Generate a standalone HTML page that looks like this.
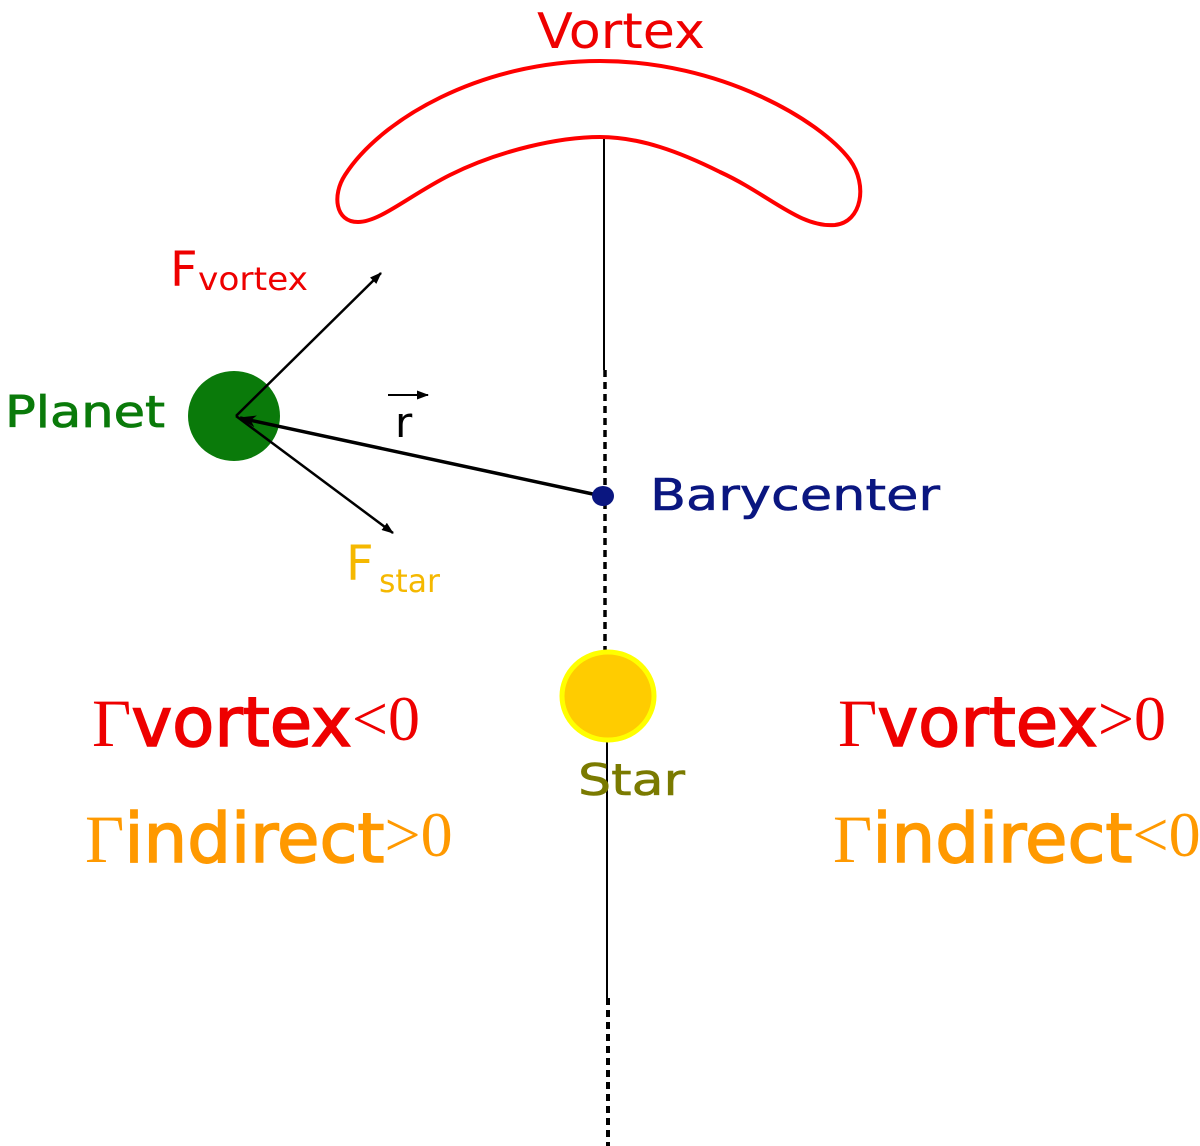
<!DOCTYPE html>
<html><head><meta charset="utf-8"><style>
html,body{margin:0;padding:0;background:#fff;}
svg{display:block;}
text{font-family:"DejaVu Sans","Liberation Sans",sans-serif;}
.s{font-family:"Liberation Serif",serif;}
</style></head><body>
<svg width="1200" height="1146" viewBox="0 0 1200 1146" xmlns="http://www.w3.org/2000/svg">
<defs>
<marker id="ah" markerWidth="12" markerHeight="9" refX="11" refY="4.5" orient="auto" markerUnits="userSpaceOnUse">
<path d="M0,0 L12,4.5 L0,9 Z" fill="#000"/></marker>
<marker id="ah2" markerWidth="18" markerHeight="12" refX="16" refY="6" orient="auto" markerUnits="userSpaceOnUse">
<path d="M0,0 L18,6 L0,12 L5,6 Z" fill="#000"/></marker>
</defs>
<line x1="604" y1="138" x2="604" y2="370" stroke="#000" stroke-width="2"/>
<line x1="605" y1="370" x2="605" y2="652" stroke="#000" stroke-width="3.5" stroke-dasharray="7,5"/>
<line x1="607" y1="652" x2="607" y2="998" stroke="#000" stroke-width="2"/>
<line x1="608" y1="998" x2="608" y2="1146" stroke="#000" stroke-width="4" stroke-dasharray="7,5"/>
<path d="M600,61 C720,61 820,120 850,160 C868,185 862,222 835,225 C800,228 770,195 720,172 C680,152 640,137 600,137 C560,137 500,150 450,175 C410,195 380,222 358,222 C335,222 332,195 345,175 C380,120 480,61 600,61 Z" fill="none" stroke="#f00" stroke-width="4"/>
<text x="537" y="48" fill="#e00" font-size="49" textLength="168" lengthAdjust="spacingAndGlyphs">Vortex</text>
<ellipse cx="234" cy="416" rx="46" ry="45" fill="#0a7a0a"/>
<text x="5" y="427" fill="#0a7a0a" stroke="#0a7a0a" stroke-width="0.8" font-size="44" textLength="160" lengthAdjust="spacingAndGlyphs">Planet</text>
<line x1="236" y1="416" x2="381" y2="273" stroke="#000" stroke-width="2.5" marker-end="url(#ah)"/>
<line x1="236" y1="416" x2="393" y2="533" stroke="#000" stroke-width="2.5" marker-end="url(#ah)"/>
<line x1="602" y1="496" x2="240" y2="418" stroke="#000" stroke-width="3.5" marker-end="url(#ah2)"/>
<text x="395" y="437" fill="#000" font-size="42">r</text>
<line x1="388" y1="395" x2="428" y2="395" stroke="#000" stroke-width="2" marker-end="url(#ah)"/>
<text x="170" y="286" fill="#e00" font-size="48">F</text>
<text x="198" y="290" fill="#e00" font-size="32" textLength="110" lengthAdjust="spacingAndGlyphs">vortex</text>
<text x="346" y="580" fill="#f5b800" font-size="48">F</text>
<text x="379" y="592" fill="#f5b800" font-size="32" textLength="61" lengthAdjust="spacingAndGlyphs">star</text>
<ellipse cx="603" cy="496" rx="11" ry="10" fill="#0a1680"/>
<text x="650" y="510" fill="#0a1680" stroke="#0a1680" stroke-width="0.6" font-size="44" textLength="290" lengthAdjust="spacingAndGlyphs">Barycenter</text>
<ellipse cx="608" cy="696" rx="46" ry="44" fill="#ffcc00" stroke="#ffff00" stroke-width="5"/>
<text x="578" y="795" fill="#7a7a00" stroke="#7a7a00" stroke-width="0.6" font-size="44" textLength="107" lengthAdjust="spacingAndGlyphs">Star</text>
<g stroke-width="1.6">
<text x="92" y="746" fill="#e00" stroke="#e00"><tspan class="s" font-size="68" stroke-width="0">Γ</tspan><tspan font-size="69">vortex</tspan><tspan class="s" font-size="64" dy="-6" stroke-width="0">&lt;0</tspan></text>
<text x="85" y="862" fill="#ff9900" stroke="#ff9900"><tspan class="s" font-size="68" stroke-width="0">Γ</tspan><tspan font-size="69">indirect</tspan><tspan class="s" font-size="64" dy="-6" stroke-width="0">&gt;0</tspan></text>
<text x="838" y="746" fill="#e00" stroke="#e00"><tspan class="s" font-size="68" stroke-width="0">Γ</tspan><tspan font-size="69">vortex</tspan><tspan class="s" font-size="64" dy="-6" stroke-width="0">&gt;0</tspan></text>
<text x="833" y="862" fill="#ff9900" stroke="#ff9900"><tspan class="s" font-size="68" stroke-width="0">Γ</tspan><tspan font-size="69">indirect</tspan><tspan class="s" font-size="64" dy="-6" stroke-width="0">&lt;0</tspan></text>
</g>
</svg>
</body></html>
